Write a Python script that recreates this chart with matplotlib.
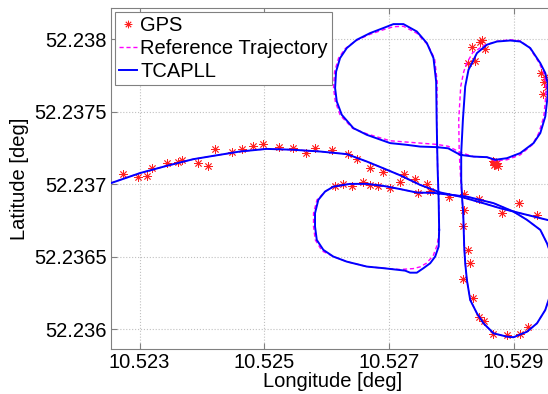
import matplotlib
matplotlib.use("Agg")
import numpy as np
import matplotlib.pyplot as plt

# road section (TCAPLL), west -> east
road_lon = [10.522537, 10.523003, 10.523432, 10.523859, 10.524181, 10.524609,
            10.525038, 10.525466, 10.525895, 10.526324, 10.526645, 10.526907,
            10.527180, 10.527501, 10.527822, 10.528144, 10.528513, 10.528786,
            10.529107, 10.529670]
road_lat = [52.237007, 52.237076, 52.237126, 52.237172, 52.237195, 52.237225,
            52.237243, 52.237237, 52.237225, 52.237207, 52.237156, 52.237110,
            52.237061, 52.236995, 52.236943, 52.236914, 52.236869, 52.236834,
            52.236800, 52.236740]

# cloverleaf (TCAPLL)
loop_lon = [10.527806, 10.527798, 10.527782, 10.527774, 10.527766, 10.527758,
            10.527715, 10.527609, 10.527448, 10.527233, 10.527072, 10.526911,
            10.526698, 10.526484, 10.526324, 10.526216, 10.526152, 10.526136,
            10.526163, 10.526243, 10.526430, 10.526645, 10.527019, 10.527287,
            10.527501, 10.527769, 10.527951, 10.528144, 10.528357, 10.528573,
            10.528706, 10.528894, 10.529107, 10.529321, 10.529429, 10.529509,
            10.529546, 10.529546, 10.529509, 10.529429, 10.529268, 10.529107,
            10.528947, 10.528733, 10.528573, 10.528412, 10.528332, 10.528277,
            10.528224, 10.528187, 10.528160, 10.528160, 10.528176, 10.528192,
            10.528208, 10.528224, 10.528251, 10.528304, 10.528412, 10.528518,
            10.528679, 10.528894, 10.528999, 10.529215, 10.529376, 10.529509,
            10.529589, 10.529638, 10.529622, 10.529536, 10.529429, 10.529215,
            10.528999, 10.528679, 10.528251, 10.527710, 10.527448, 10.527180,
            10.526911, 10.526645, 10.526376, 10.526108, 10.525975, 10.525867,
            10.525814, 10.525814, 10.525842, 10.525948, 10.526108, 10.526324,
            10.526645, 10.526911, 10.527260, 10.527340, 10.527448, 10.527554,
            10.527662, 10.527742, 10.527798, 10.527806]
loop_lat = [52.236685, 52.236892, 52.237099, 52.237257, 52.237443, 52.237706,
            52.237869, 52.237972, 52.238052, 52.238103, 52.238103, 52.238076,
            52.238041, 52.237995, 52.237938, 52.237869, 52.237776, 52.237662,
            52.237570, 52.237478, 52.237386, 52.237340, 52.237283, 52.237271,
            52.237259, 52.237255, 52.237247, 52.237202, 52.237190, 52.237186,
            52.237168, 52.237179, 52.237214, 52.237283, 52.237352, 52.237466,
            52.237604, 52.237697, 52.237766, 52.237834, 52.237938, 52.237983,
            52.237990, 52.237983, 52.237961, 52.237903, 52.237834, 52.237788,
            52.237673, 52.237443, 52.237216, 52.237030, 52.236892, 52.236802,
            52.236568, 52.236457, 52.236340, 52.236202, 52.236110, 52.236041,
            52.235972, 52.235949, 52.235945, 52.235983, 52.236041, 52.236133,
            52.236237, 52.236374, 52.236492, 52.236593, 52.236685, 52.236754,
            52.236811, 52.236869, 52.236914, 52.236940, 52.236942, 52.236966,
            52.236988, 52.237002, 52.237002, 52.236983, 52.236949, 52.236892,
            52.236800, 52.236708, 52.236616, 52.236547, 52.236501, 52.236466,
            52.236432, 52.236421, 52.236404, 52.236390, 52.236390, 52.236421,
            52.236455, 52.236501, 52.236570, 52.236685]

# cloverleaf (reference trajectory)
ref_lon = [10.527806, 10.527798, 10.527782, 10.527774, 10.527766, 10.527774,
           10.527734, 10.527622, 10.527448, 10.527233, 10.527072, 10.526911,
           10.526698, 10.526465, 10.526296, 10.526192, 10.526128, 10.526111,
           10.526139, 10.526219, 10.526417, 10.526645, 10.527019, 10.527287,
           10.527501, 10.527769, 10.527951, 10.528144, 10.528357, 10.528573,
           10.528706, 10.528894, 10.529107, 10.529300, 10.529405, 10.529485,
           10.529517, 10.529517, 10.529485, 10.529405, 10.529252, 10.529107,
           10.528947, 10.528733, 10.528529, 10.528344, 10.528248, 10.528200,
           10.528152, 10.528120, 10.528128, 10.528152, 10.528176, 10.528192,
           10.528208, 10.528224, 10.528251, 10.528304, 10.528412, 10.528518,
           10.528679, 10.528894, 10.528999, 10.529215, 10.529376, 10.529509,
           10.529589, 10.529638, 10.529622, 10.529536, 10.529429, 10.529215,
           10.528999, 10.528679, 10.528251, 10.527710, 10.527448, 10.527180,
           10.526911, 10.526645, 10.526376, 10.526108, 10.525975, 10.525846,
           10.525790, 10.525790, 10.525818, 10.525927, 10.526108, 10.526324,
           10.526645, 10.526911, 10.527180, 10.527389, 10.527501, 10.527597,
           10.527710, 10.527774, 10.527806, 10.527806]
ref_lat = [52.236685, 52.236892, 52.237099, 52.237257, 52.237443, 52.237706,
           52.237864, 52.237961, 52.238040, 52.238088, 52.238085, 52.238064,
           52.238033, 52.237988, 52.237933, 52.237869, 52.237776, 52.237662,
           52.237570, 52.237474, 52.237385, 52.237347, 52.237299, 52.237290,
           52.237283, 52.237274, 52.237261, 52.237219, 52.237190, 52.237186,
           52.237161, 52.237168, 52.237202, 52.237271, 52.237352, 52.237466,
           52.237604, 52.237697, 52.237766, 52.237840, 52.237943, 52.237988,
           52.237995, 52.237985, 52.237957, 52.237906, 52.237834, 52.237774,
           52.237673, 52.237443, 52.237216, 52.237030, 52.236892, 52.236802,
           52.236568, 52.236457, 52.236340, 52.236202, 52.236110, 52.236041,
           52.235972, 52.235949, 52.235945, 52.235983, 52.236041, 52.236133,
           52.236237, 52.236374, 52.236492, 52.236593, 52.236685, 52.236754,
           52.236811, 52.236869, 52.236914, 52.236940, 52.236942, 52.236966,
           52.236988, 52.237002, 52.237002, 52.236983, 52.236949, 52.236892,
           52.236800, 52.236708, 52.236616, 52.236540, 52.236501, 52.236466,
           52.236432, 52.236421, 52.236412, 52.236418, 52.236430, 52.236454,
           52.236506, 52.236581, 52.236671, 52.236685]

# GPS fixes
gps_lon = [10.522735, 10.522976, 10.523111, 10.523191, 10.523432, 10.523618,
           10.523673, 10.523940, 10.524100, 10.524208, 10.524476, 10.524637,
           10.524823, 10.524984, 10.525236, 10.525466, 10.525670, 10.525814,
           10.526083, 10.526341, 10.526489, 10.526703, 10.526907, 10.527244,
           10.527421, 10.527180, 10.527609, 10.527461, 10.527662, 10.526136,
           10.526269, 10.526404, 10.526590, 10.526698, 10.526831, 10.527019,
           10.527956, 10.528197, 10.528449, 10.528818, 10.529083, 10.529381,
           10.528208, 10.528184, 10.528267, 10.528293, 10.528187, 10.528357,
           10.528444, 10.528518, 10.528666, 10.528894, 10.529107, 10.529236,
           10.528328, 10.528465, 10.528497, 10.528545, 10.528261, 10.528385,
           10.529437, 10.529509, 10.529485, 10.529533, 10.529477, 10.528669,
           10.528706, 10.528733, 10.528679, 10.528754, 10.528690]
gps_lat = [52.237071, 52.237048, 52.237057, 52.237110, 52.237149, 52.237156,
           52.237168, 52.237145, 52.237126, 52.237241, 52.237221, 52.237243,
           52.237266, 52.237278, 52.237259, 52.237252, 52.237214, 52.237252,
           52.237234, 52.237206, 52.237172, 52.237110, 52.237085, 52.237068,
           52.237037, 52.237018, 52.237002, 52.236937, 52.236952, 52.236988,
           52.237002, 52.236988, 52.237018, 52.236995, 52.236988, 52.236972,
           52.236914, 52.236933, 52.236896, 52.236800, 52.236869, 52.236785,
           52.236819, 52.236710, 52.236549, 52.236459, 52.236346, 52.236216,
           52.236087, 52.236057, 52.235968, 52.235963, 52.235968, 52.236018,
           52.237943, 52.237983, 52.237995, 52.237933, 52.237837, 52.237846,
           52.237768, 52.237740, 52.237706, 52.237671, 52.237623, 52.237163,
           52.237138, 52.237147, 52.237133, 52.237128, 52.237150]

x_ticks = [10.523, 10.525, 10.527, 10.529]
x_tick_labels = ["10.523", "10.525", "10.527", "10.529"]
y_ticks = [52.236, 52.2365, 52.237, 52.2375, 52.238]
y_tick_labels = ["52.236", "52.2365", "52.237", "52.2375", "52.238"]

plt.rcParams['font.family'] = ['Liberation Sans', 'DejaVu Sans']

fig = plt.figure(figsize=(5.48, 3.94), dpi=100)
ax = fig.add_axes([111 / 548, 45 / 394, 444 / 548, 341 / 394])

ax.plot(gps_lon, gps_lat, linestyle='none', marker=(8, 2, 0), markersize=6,
        color='#ff2020', markeredgewidth=0.6, label='GPS', zorder=2)
ax.plot(ref_lon, ref_lat, '--', color='magenta', linewidth=1.0,
        dashes=(3, 2), label='Reference Trajectory', zorder=3)
ax.plot(road_lon, road_lat, '--', color='magenta', linewidth=1.0,
        dashes=(3, 2), zorder=3)
ax.plot(loop_lon, loop_lat, '-', color='blue', linewidth=1.4,
        label='TCAPLL', zorder=4)
ax.plot(road_lon, road_lat, '-', color='blue', linewidth=1.4, zorder=4)

ax.set_xlim(10.522540, 10.529665)
ax.set_ylim(52.235864, 52.238214)
ax.set_xticks(x_ticks)
ax.set_xticklabels(x_tick_labels)
ax.set_yticks(y_ticks)
ax.set_yticklabels(y_tick_labels)
ax.tick_params(direction='in', length=4, color='#808080', labelsize=14.5,
               pad=3, top=True, right=True)
ax.grid(True, linestyle=':', color='#c0c0c0', linewidth=0.8)
for s in ax.spines.values():
    s.set_color('#808080')
    s.set_linewidth(0.8)

ax.set_xlabel('Longitude [deg]', fontsize=14.5, labelpad=0)
ax.set_ylabel('Latitude [deg]', fontsize=14.5, labelpad=4)

leg = ax.legend(loc='upper left', bbox_to_anchor=(0, 1), fontsize=14.5,
                handlelength=0.9, handletextpad=0.15, borderpad=0.2,
                labelspacing=0.2, borderaxespad=0.2, fancybox=False,
                framealpha=1, edgecolor='#808080', markerscale=0.9)
leg.get_frame().set_linewidth(0.8)

fig.savefig('out.png', dpi=100)
